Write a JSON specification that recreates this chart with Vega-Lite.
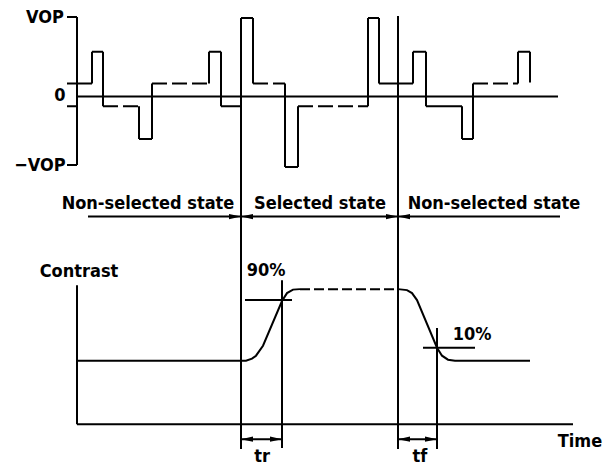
{
  "$schema": "https://vega.github.io/schema/vega-lite/v6.json",
  "autosize": {"type": "fit", "contains": "padding"},
  "width": 615,
  "height": 466,
  "padding": 0,
  "background": "white",
  "config": {"view": {"stroke": null}},
  "datasets": {
    "segs": [
      {"x": 77, "y": 17, "x2": 77, "y2": 166, "kind": "solid"},
      {"x": 67, "y": 17, "x2": 77, "y2": 17, "kind": "solid"},
      {"x": 67, "y": 107, "x2": 77, "y2": 107, "kind": "solid"},
      {"x": 67, "y": 166, "x2": 77, "y2": 166, "kind": "solid"},
      {"x": 77, "y": 97, "x2": 558, "y2": 97, "kind": "solid"},
      {"x": 67, "y": 84, "x2": 92, "y2": 84, "kind": "solid"},
      {"x": 92, "y": 84, "x2": 92, "y2": 52, "kind": "solid"},
      {"x": 92, "y": 52, "x2": 103, "y2": 52, "kind": "solid"},
      {"x": 103, "y": 52, "x2": 103, "y2": 107, "kind": "solid"},
      {"x": 103, "y": 107, "x2": 139, "y2": 107, "kind": "long dash"},
      {"x": 139, "y": 107, "x2": 139, "y2": 140, "kind": "solid"},
      {"x": 139, "y": 140, "x2": 152, "y2": 140, "kind": "solid"},
      {"x": 152, "y": 140, "x2": 152, "y2": 84, "kind": "solid"},
      {"x": 152, "y": 84, "x2": 209, "y2": 84, "kind": "long dash"},
      {"x": 209, "y": 84, "x2": 209, "y2": 52, "kind": "solid"},
      {"x": 209, "y": 52, "x2": 221, "y2": 52, "kind": "solid"},
      {"x": 221, "y": 52, "x2": 221, "y2": 107, "kind": "solid"},
      {"x": 221, "y": 107, "x2": 241, "y2": 107, "kind": "solid"},
      {"x": 241, "y": 18, "x2": 253, "y2": 18, "kind": "solid"},
      {"x": 253, "y": 18, "x2": 253, "y2": 84, "kind": "solid"},
      {"x": 253, "y": 84, "x2": 285, "y2": 84, "kind": "long dash"},
      {"x": 285, "y": 84, "x2": 285, "y2": 168, "kind": "solid"},
      {"x": 285, "y": 168, "x2": 298, "y2": 168, "kind": "solid"},
      {"x": 298, "y": 168, "x2": 298, "y2": 107, "kind": "solid"},
      {"x": 298, "y": 107, "x2": 368, "y2": 107, "kind": "long dash"},
      {"x": 368, "y": 107, "x2": 368, "y2": 18, "kind": "solid"},
      {"x": 368, "y": 18, "x2": 379, "y2": 18, "kind": "solid"},
      {"x": 379, "y": 18, "x2": 379, "y2": 84, "kind": "solid"},
      {"x": 379, "y": 84, "x2": 413, "y2": 84, "kind": "solid"},
      {"x": 413, "y": 84, "x2": 413, "y2": 52, "kind": "solid"},
      {"x": 413, "y": 52, "x2": 426, "y2": 52, "kind": "solid"},
      {"x": 426, "y": 52, "x2": 426, "y2": 107, "kind": "solid"},
      {"x": 426, "y": 107, "x2": 462, "y2": 107, "kind": "solid"},
      {"x": 462, "y": 107, "x2": 462, "y2": 140, "kind": "solid"},
      {"x": 462, "y": 140, "x2": 473, "y2": 140, "kind": "solid"},
      {"x": 473, "y": 140, "x2": 473, "y2": 84, "kind": "solid"},
      {"x": 473, "y": 84, "x2": 518, "y2": 84, "kind": "long dash"},
      {"x": 518, "y": 84, "x2": 518, "y2": 52, "kind": "solid"},
      {"x": 518, "y": 52, "x2": 530, "y2": 52, "kind": "solid"},
      {"x": 530, "y": 52, "x2": 530, "y2": 83, "kind": "solid"},
      {"x": 241, "y": 18, "x2": 241, "y2": 452, "kind": "solid"},
      {"x": 398, "y": 16, "x2": 398, "y2": 452, "kind": "solid"},
      {"x": 88, "y": 218, "x2": 560, "y2": 218, "kind": "solid"},
      {"x": 77, "y": 287, "x2": 77, "y2": 427, "kind": "solid"},
      {"x": 77, "y": 427, "x2": 573, "y2": 427, "kind": "solid"},
      {"x": 300, "y": 291, "x2": 398, "y2": 291, "kind": "short dash"},
      {"x": 245, "y": 302, "x2": 292, "y2": 302, "kind": "solid"},
      {"x": 282, "y": 282, "x2": 282, "y2": 451, "kind": "solid"},
      {"x": 423, "y": 350, "x2": 475, "y2": 350, "kind": "solid"},
      {"x": 437, "y": 330, "x2": 437, "y2": 452, "kind": "solid"},
      {"x": 241, "y": 442, "x2": 282, "y2": 442, "kind": "solid"},
      {"x": 398, "y": 442, "x2": 437, "y2": 442, "kind": "solid"}
    ],
    "curves": [
      {"id": "rise", "o": 1, "x": 77, "y": 363},
      {"id": "rise", "o": 2, "x": 246, "y": 363},
      {"id": "rise", "o": 3, "x": 252, "y": 361},
      {"id": "rise", "o": 4, "x": 256, "y": 358},
      {"id": "rise", "o": 5, "x": 263, "y": 348},
      {"id": "rise", "o": 6, "x": 282, "y": 303},
      {"id": "rise", "o": 7, "x": 287, "y": 295},
      {"id": "rise", "o": 8, "x": 293, "y": 291.5},
      {"id": "rise", "o": 9, "x": 300, "y": 291},
      {"id": "fall", "o": 1, "x": 398, "y": 291},
      {"id": "fall", "o": 2, "x": 407, "y": 292},
      {"id": "fall", "o": 3, "x": 412, "y": 295},
      {"id": "fall", "o": 4, "x": 417, "y": 302},
      {"id": "fall", "o": 5, "x": 437, "y": 350},
      {"id": "fall", "o": 6, "x": 442, "y": 358},
      {"id": "fall", "o": 7, "x": 448, "y": 362},
      {"id": "fall", "o": 8, "x": 455, "y": 363},
      {"id": "fall", "o": 9, "x": 530, "y": 363}
    ],
    "arrowsRight": [
      {"x": 241, "y": 218},
      {"x": 398, "y": 218},
      {"x": 282, "y": 442},
      {"x": 437, "y": 442}
    ],
    "arrowsLeft": [
      {"x": 241, "y": 218},
      {"x": 398, "y": 218},
      {"x": 241, "y": 442},
      {"x": 398, "y": 442}
    ],
    "labels": [
      {"x": 45, "y": 18, "t": "VOP"},
      {"x": 60, "y": 97, "t": "0"},
      {"x": 40, "y": 167, "t": "−VOP"},
      {"x": 148, "y": 205, "t": "Non-selected state"},
      {"x": 320, "y": 205, "t": "Selected state"},
      {"x": 494, "y": 205, "t": "Non-selected state"},
      {"x": 79, "y": 274, "t": "Contrast"},
      {"x": 266, "y": 273, "t": "90%"},
      {"x": 472, "y": 337, "t": "10%"},
      {"x": 580, "y": 445, "t": "Time"},
      {"x": 262, "y": 460, "t": "tr"},
      {"x": 420, "y": 460, "t": "tf"}
    ]
  },
  "layer": [
    {
      "data": {"name": "segs"},
      "mark": {"type": "rule", "color": "black", "strokeWidth": 2},
      "encoding": {
        "x": {"field": "x", "type": "quantitative", "scale": {"domain": [0, 615], "nice": false, "zero": false}, "axis": null},
        "y": {"field": "y", "type": "quantitative", "scale": {"domain": [0, 466], "nice": false, "zero": false, "reverse": true}, "axis": null},
        "x2": {"field": "x2"},
        "y2": {"field": "y2"},
        "strokeDash": {"field": "kind", "type": "nominal", "legend": null, "scale": {"domain": ["solid", "long dash", "short dash"], "range": [[1, 0], [15, 5], [10, 4]]}}
      }
    },
    {
      "data": {"name": "curves"},
      "mark": {"type": "line", "color": "black", "strokeWidth": 2},
      "encoding": {
        "x": {"field": "x", "type": "quantitative", "scale": {"domain": [0, 615], "nice": false, "zero": false}, "axis": null},
        "y": {"field": "y", "type": "quantitative", "scale": {"domain": [0, 466], "nice": false, "zero": false, "reverse": true}, "axis": null},
        "detail": {"field": "id"},
        "order": {"field": "o", "type": "quantitative"}
      }
    },
    {
      "data": {"name": "arrowsRight"},
      "mark": {"type": "point", "shape": "M0,0L-1,-0.22L-1,0.22Z", "filled": true, "color": "black", "size": 576, "opacity": 1},
      "encoding": {
        "x": {"field": "x", "type": "quantitative", "scale": {"domain": [0, 615], "nice": false, "zero": false}, "axis": null},
        "y": {"field": "y", "type": "quantitative", "scale": {"domain": [0, 466], "nice": false, "zero": false, "reverse": true}, "axis": null}
      }
    },
    {
      "data": {"name": "arrowsLeft"},
      "mark": {"type": "point", "shape": "M0,0L1,-0.22L1,0.22Z", "filled": true, "color": "black", "size": 576, "opacity": 1},
      "encoding": {
        "x": {"field": "x", "type": "quantitative", "scale": {"domain": [0, 615], "nice": false, "zero": false}, "axis": null},
        "y": {"field": "y", "type": "quantitative", "scale": {"domain": [0, 466], "nice": false, "zero": false, "reverse": true}, "axis": null}
      }
    },
    {
      "data": {"name": "labels"},
      "mark": {"type": "text", "font": "'Liberation Sans Narrow', 'DejaVu Sans Condensed', 'DejaVu Sans', sans-serif", "fontSize": 18, "fontWeight": "bold", "color": "black", "align": "center", "baseline": "middle"},
      "encoding": {
        "x": {"field": "x", "type": "quantitative", "scale": {"domain": [0, 615], "nice": false, "zero": false}, "axis": null},
        "y": {"field": "y", "type": "quantitative", "scale": {"domain": [0, 466], "nice": false, "zero": false, "reverse": true}, "axis": null},
        "text": {"field": "t"}
      }
    }
  ]
}
